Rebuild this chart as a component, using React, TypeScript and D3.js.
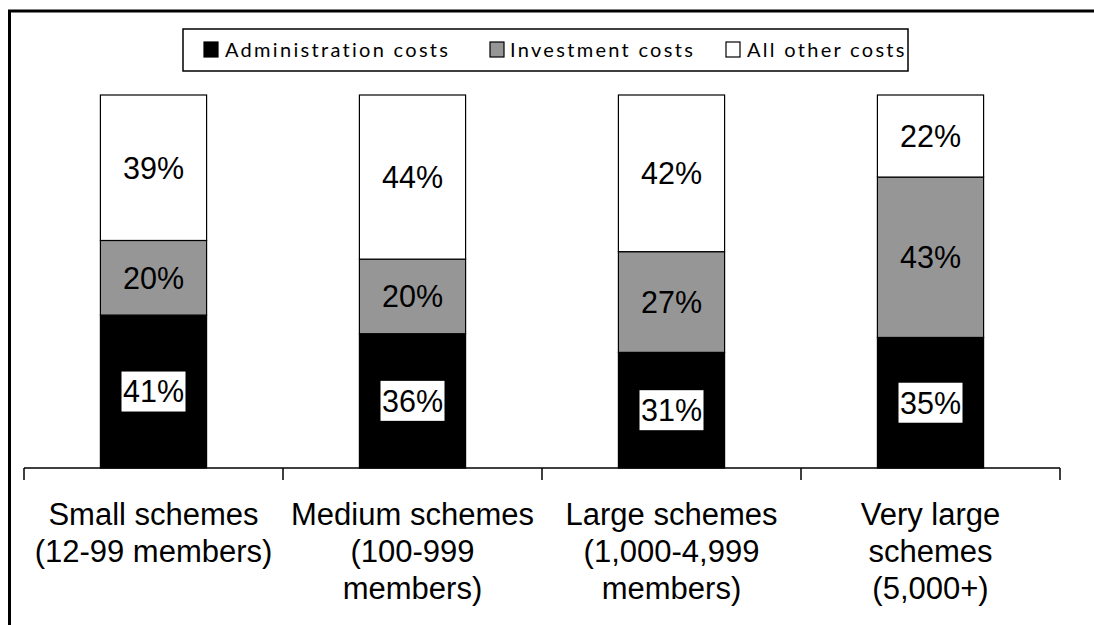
import React from "react";
import * as d3 from "d3";

const categories = ["small", "medium", "large", "verylarge"];
const categoryLabels: string[][] = [
  ["Small schemes", "(12-99 members)"],
  ["Medium schemes", "(100-999", "members)"],
  ["Large schemes", "(1,000-4,999", "members)"],
  ["Very large", "schemes", "(5,000+)"],
];
const seriesNames = ["Administration costs", "Investment costs", "All other costs"];
const adminCosts = [41, 36, 31, 35];
const investmentCosts = [20, 20, 27, 43];
const otherCosts = [39, 44, 42, 22];
const seriesColors = ["#000000", "#969696", "#ffffff"];

export default function App() {
  const W = 1094;
  const H = 625;
  const axisY = 468;
  const topY = 95;
  const x = d3
    .scaleBand<string>()
    .domain(categories)
    .range([24, 1060])
    .paddingInner(0.59)
    .paddingOuter(0.295);
  const xOuter = d3.scaleBand<string>().domain(categories).range([24, 1060]).padding(0);
  const y = d3.scaleLinear().domain([0, 100]).range([axisY, topY]);

  const rows = categories.map((c, i) => ({
    cat: c,
    a: adminCosts[i],
    b: investmentCosts[i],
    c: otherCosts[i],
  }));
  const stack = d3.stack<any>().keys(["a", "b", "c"]);
  const series = stack(rows);

  const fontArial = "'Liberation Sans', Arial, sans-serif";
  const valueSize = 30.5;
  const catSize = 31;

  const tickXs = [...categories.map((c) => xOuter(c)!), xOuter(categories[3])! + xOuter.step()];

  const legendItems = [
    { x: 204, textX: 225 },
    { x: 490, textX: 510 },
    { x: 726, textX: 747 },
  ];

  return (
    <svg
      width={W}
      height={H}
      style={{ position: "absolute", left: 0, top: 0, background: "#fff" }}
    >
      <rect x={9.5} y={11} width={1200} height={800} fill="#fff" stroke="#000" strokeWidth={3} />

      {/* bars */}
      {series.map((s, si) =>
        s.map((d, i) => {
          const cat = categories[i];
          const x0 = x(cat)!;
          const y0 = y(d[1]);
          const y1 = y(d[0]);
          return (
            <rect
              key={`${si}-${i}`}
              x={x0}
              y={y0}
              width={x.bandwidth()}
              height={y1 - y0}
              fill={seriesColors[si]}
              stroke="#000"
              strokeWidth={1.2}
            />
          );
        })
      )}

      {/* value labels */}
      {series.map((s, si) =>
        s.map((d, i) => {
          const cat = categories[i];
          const cx = x(cat)! + x.bandwidth() / 2;
          const cy = (y(d[0]) + y(d[1])) / 2;
          const val = d[1] - d[0];
          const txt = `${val}%`;
          return (
            <g key={`l${si}-${i}`}>
              {si === 0 && (
                <rect x={cx - 32} y={cy - 20} width={64} height={40} fill="#fff" />
              )}
              <text
                x={cx}
                y={cy + valueSize * 0.358}
                textAnchor="middle"
                fontFamily={fontArial}
                fontSize={valueSize}
                fill="#000"
              >
                {txt}
              </text>
            </g>
          );
        })
      )}

      {/* axis */}
      <line x1={24} x2={1060} y1={axisY} y2={axisY} stroke="#000" strokeWidth={1.5} />
      {tickXs.map((tx, i) => (
        <line key={i} x1={tx} x2={tx} y1={axisY} y2={axisY + 12} stroke="#000" strokeWidth={1.5} />
      ))}

      {/* category labels */}
      {categories.map((c, i) => {
        const cx = x(c)! + x.bandwidth() / 2;
        return (
          <text
            key={c}
            x={cx}
            textAnchor="middle"
            fontFamily={fontArial}
            fontSize={catSize}
            fill="#000"
          >
            {categoryLabels[i].map((line, li) => (
              <tspan key={li} x={cx} y={525 + li * 37}>
                {line}
              </tspan>
            ))}
          </text>
        );
      })}

      {/* legend */}
      <rect x={183} y={29} width={725} height={42} fill="#fff" stroke="#000" strokeWidth={1.5} />
      {seriesNames.map((n, i) => (
        <g key={n}>
          <rect
            x={legendItems[i].x}
            y={42}
            width={14}
            height={15}
            fill={seriesColors[i]}
            stroke="#000"
            strokeWidth={1.2}
          />
          <text
            x={legendItems[i].textX}
            y={57}
            fontFamily="Lato, 'Open Sans', sans-serif"
            fontSize={20}
            letterSpacing={2.3}
            fill="#000"
          >
            {n}
          </text>
        </g>
      ))}
    </svg>
  );
}
